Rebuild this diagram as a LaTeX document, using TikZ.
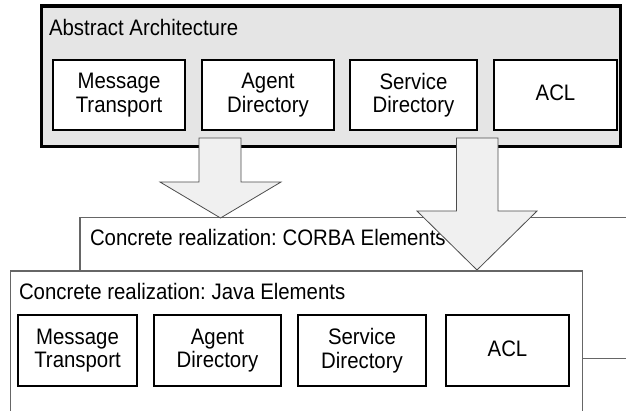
\documentclass[tikz,border=0pt]{standalone}
\usepackage{fontspec}
\setmainfont{Liberation Sans}[FakeStretch=0.91]
\frenchspacing
\begin{document}
\begin{tikzpicture}[x=1pt,y=-1pt,
  every node/.style={inner sep=0pt, outer sep=0pt, font=\fontsize{22.4}{23.5}\selectfont},
  outerbox/.style={draw=black, line width=3.5pt, fill=gray!20, anchor=north west},
  elem/.style={draw=black, line width=2.5pt, fill=white, align=center, anchor=north west},
  realbox/.style={draw=black!60, line width=1.2pt, fill=white, anchor=north west},
  bigarrow/.style={draw=black!70, line width=0.8pt, fill=gray!12, line join=miter},
  title/.style={anchor=base west}]
\useasboundingbox (0,0) rectangle (626,410);
\clip (0,0) rectangle (626,410);
\fill[white] (0,0) rectangle (626,410);
% Abstract architecture
\node[outerbox, minimum width=579pt, minimum height=140.5pt] (abs) at (41.5,6) {};
\node[title] (abst) at (49,35) {Abstract Architecture};
\node[elem, minimum width=132pt, minimum height=70pt] (amt) at (53,60) {Message\\Transport};
\node[elem, minimum width=132pt, minimum height=70pt] (aad) at (202,60) {Agent\\Directory};
\node[elem, minimum width=127pt, minimum height=70pt] (asd) at (350,60) {Service\\Directory};
\node[elem, minimum width=123pt, minimum height=70pt] (aacl) at (494,60) {ACL\vphantom{p}};
% CORBA realization
\node[realbox, minimum width=580pt, minimum height=141pt] (corba) at (80,217.5) {};
\node[title] (corbat) at (90,245) {Concrete realization: CORBA Elements};
% arrows
\draw[bigarrow] (199,138) -- (241,138) -- (241,182) -- (281,182) -- (220.5,218) -- (160,182) -- (199,182) -- cycle;
\draw[bigarrow] (456.5,138) -- (498,138) -- (498,211) -- (537,211) -- (477,270) -- (417,211) -- (456.5,211) -- cycle;
% Java realization
\node[realbox, minimum width=572pt, minimum height=160pt] (java) at (10.5,271) {};
\node[title] (javat) at (19,299) {Concrete realization: Java Elements};
\node[elem, minimum width=119pt, minimum height=71pt] (jmt) at (18,315) {Message\\Transport};
\node[elem, minimum width=127pt, minimum height=71pt] (jad) at (154,315) {Agent\\Directory};
\node[elem, minimum width=128pt, minimum height=71pt] (jsd) at (298,315) {Service\\Directory};
\node[elem, minimum width=123pt, minimum height=71pt] (jacl) at (446,315) {ACL\vphantom{p}};
\end{tikzpicture}
\end{document}
